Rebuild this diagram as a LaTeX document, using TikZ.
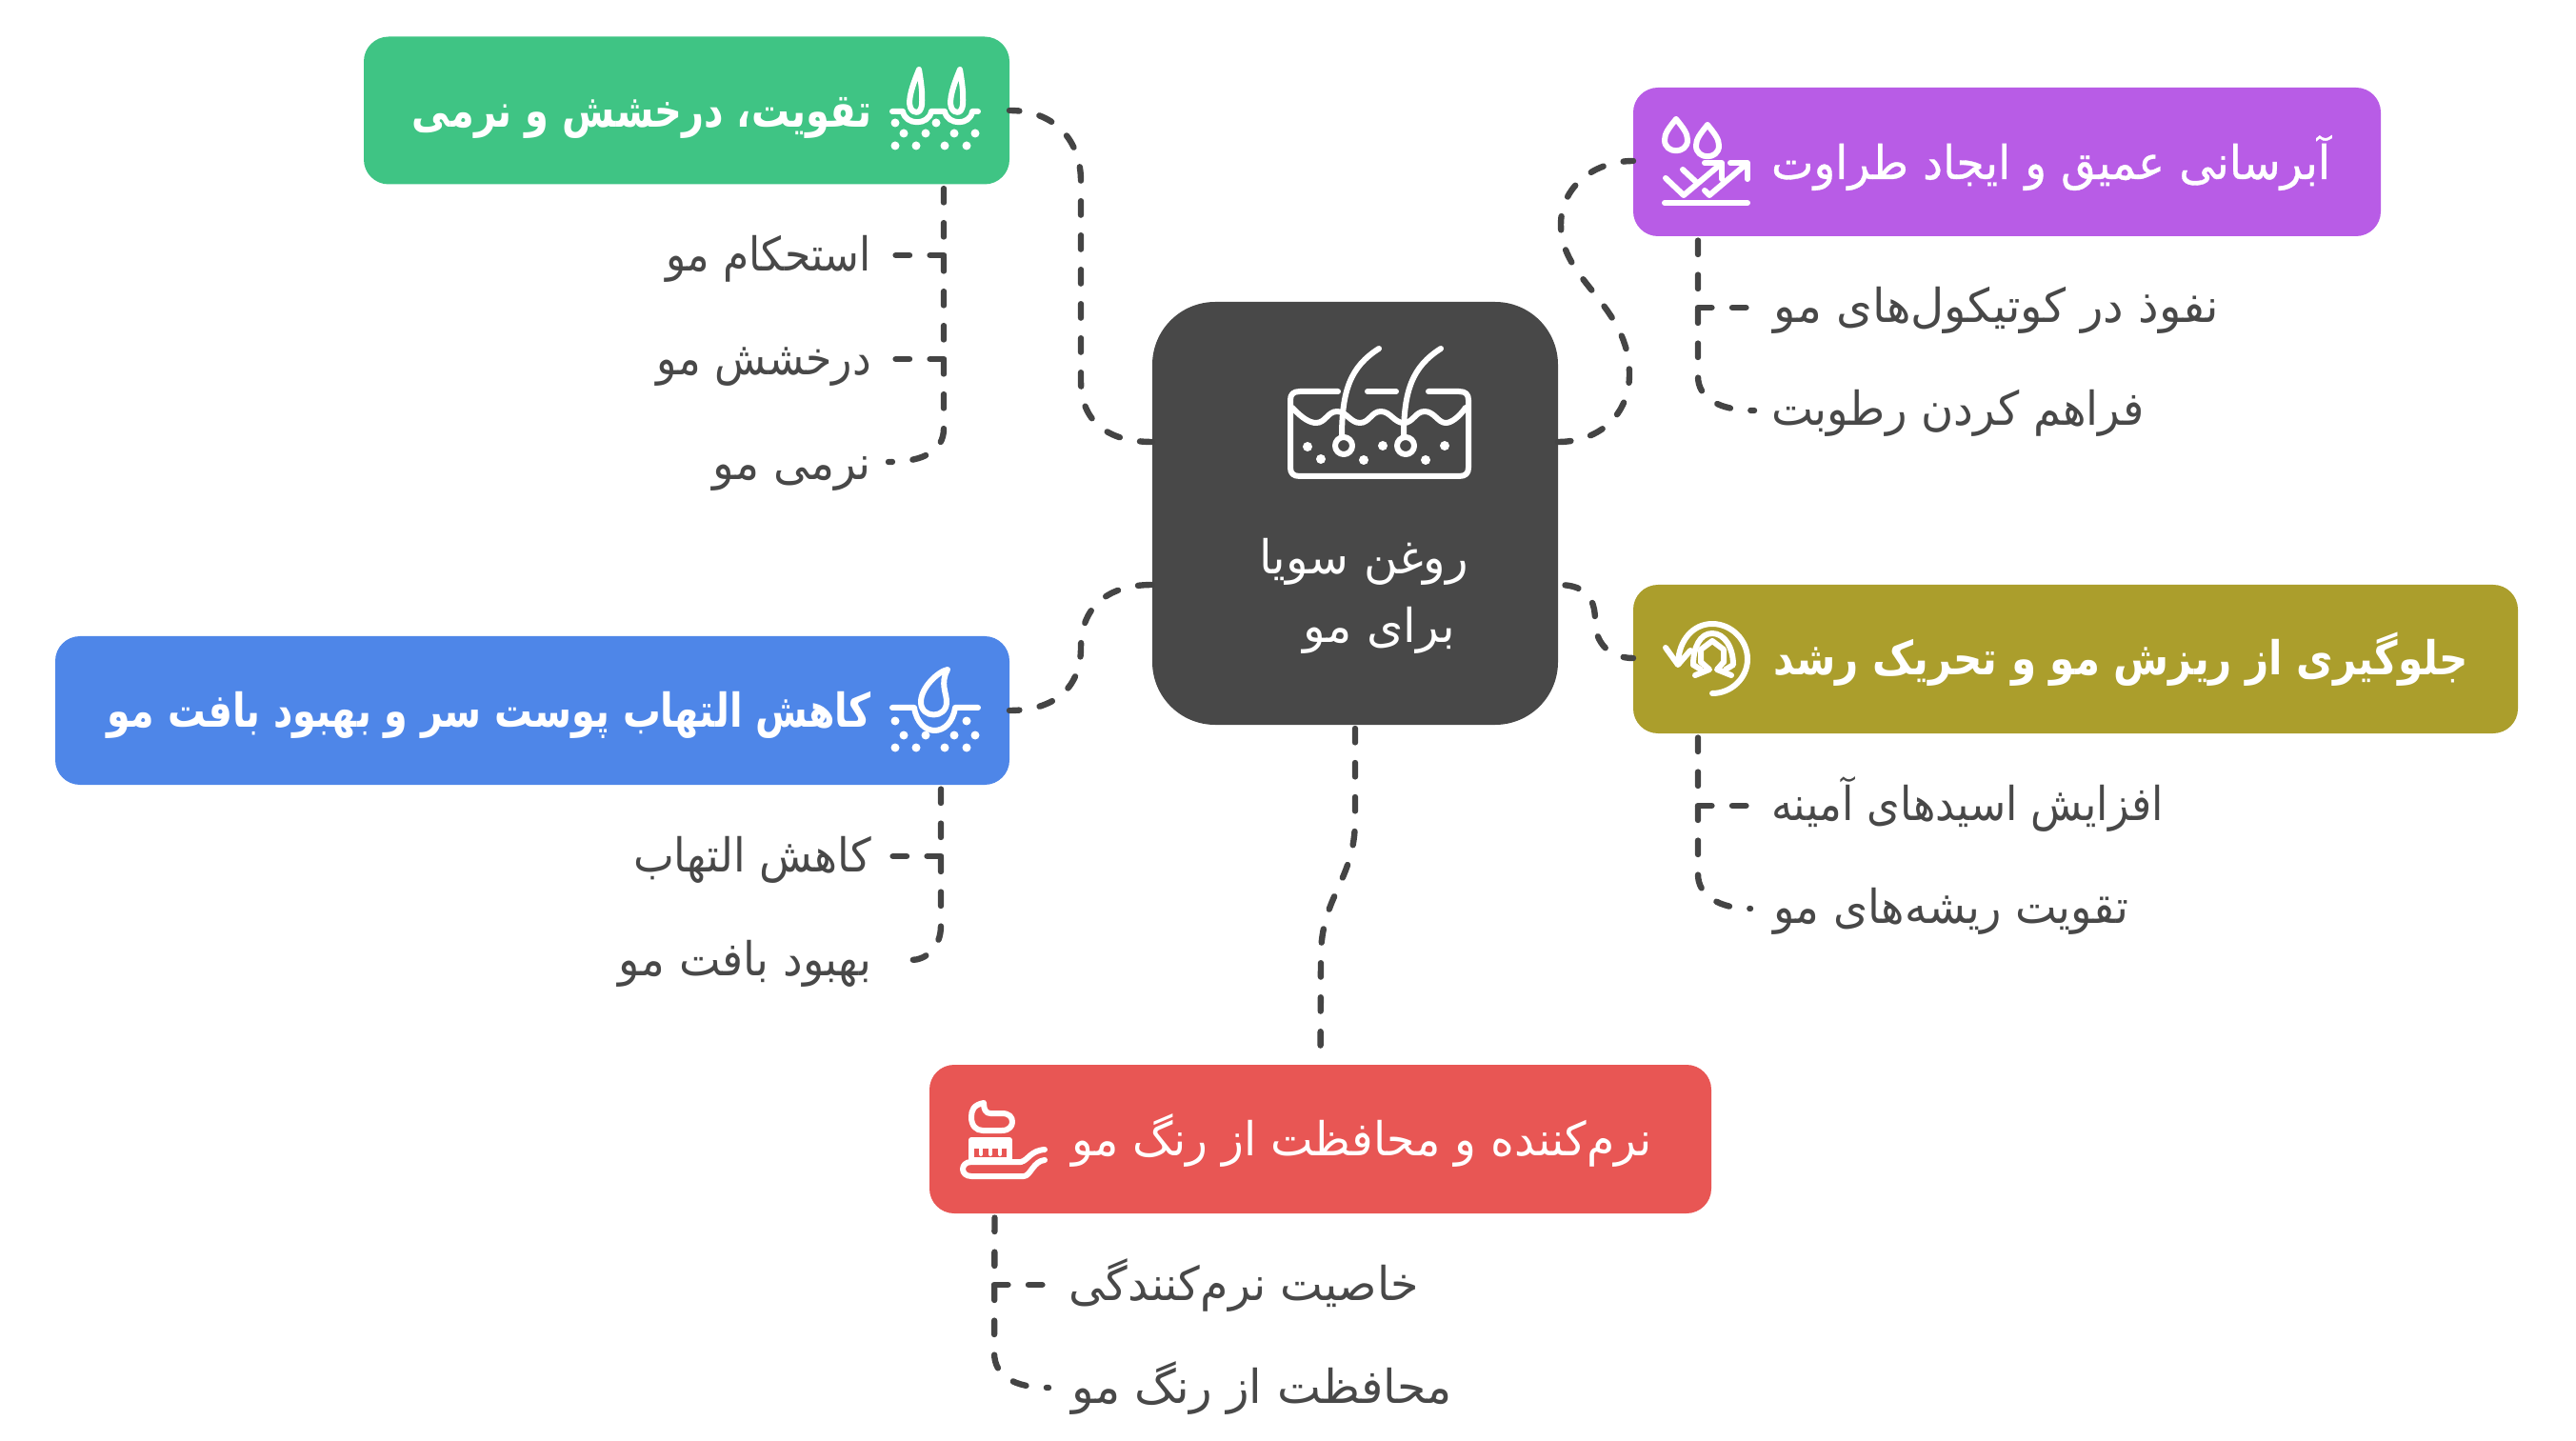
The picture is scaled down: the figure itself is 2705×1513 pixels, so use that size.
\documentclass[tikz,border=0pt]{standalone}
\usepackage{fontspec}
\usepackage{graphicx}
\usetikzlibrary{calc}
\TeXXeTstate=1
\newfontfamily\arabicfont[Script=Arabic]{DejaVu Sans}
\newfontfamily\arabicbold[Script=Arabic]{DejaVu Sans Bold}
\newfontfamily\arabicmedium[Script=Arabic,FakeBold=0.7]{DejaVu Sans}
\newdimen\pxu \pxu=0.5pt
\newcommand{\txr}[2]{\resizebox{#1\pxu}{\height}{\fontsize{24.5}{28}\arabicfont #2}}
\newcommand{\txb}[2]{\resizebox{#1\pxu}{\height}{\fontsize{24.5}{28}\arabicbold #2}}
\newcommand{\txm}[2]{\resizebox{#1\pxu}{\height}{\fontsize{24.5}{28}\arabicmedium #2}}
\definecolor{cgreen}{HTML}{3FC484}
\definecolor{cpurple}{HTML}{B85CE6}
\definecolor{colive}{HTML}{AB9E2C}
\definecolor{cblue}{HTML}{4E86E8}
\definecolor{cred}{HTML}{E85654}
\definecolor{ccenter}{HTML}{484848}
\definecolor{ctext}{HTML}{484848}
\definecolor{cline}{HTML}{444444}
\tikzset{
  boxnode/.style={draw=none,rounded corners=13pt,inner sep=0pt,outer sep=0pt},
  sublabel/.style={inner sep=0pt,outer sep=0pt,text=ctext},
  titlelabel/.style={inner sep=0pt,outer sep=0pt,text=white},
  conn/.style={draw=cline,line width=3.2pt,line cap=round,dash pattern=on 7.2pt off 10.8pt},
  ico/.style={draw=white,line width=3pt,line cap=round,line join=round},
  icodot/.style={fill=white,draw=none}
}
\begin{document}
\begin{tikzpicture}[x=0.5pt,y=-0.5pt]
\useasboundingbox (0,0) rectangle (2705,1513);
% boxes
\node[boxnode,fill=ccenter,rounded corners=33pt,minimum width=426\pxu,minimum height=444\pxu] (hub) at (1423,539) {};
\node[boxnode,fill=cgreen,minimum width=678\pxu,minimum height=155\pxu] (green) at (721,116) {};
\node[boxnode,fill=cpurple,minimum width=785\pxu,minimum height=156\pxu] (purple) at (2107.5,170) {};
\node[boxnode,fill=colive,minimum width=929\pxu,minimum height=156\pxu] (olive) at (2179.5,692) {};
\node[boxnode,fill=cblue,minimum width=1002\pxu,minimum height=156\pxu] (blue) at (559,746) {};
\node[boxnode,fill=cred,minimum width=821\pxu,minimum height=156\pxu] (red) at (1386.5,1196) {};
% titles
\node[titlelabel,anchor=base east] (tgreen) at (915,134) {\txb{482}{\beginR تقویت، درخشش و نرمی\endR}};
\node[titlelabel,anchor=base west] (tpurple) at (1860,188) {\txm{587}{\beginR آبرسانی عمیق و ایجاد طراوت\endR}};
\node[titlelabel,anchor=base west] (tolive) at (1862,709) {\txb{730}{\beginR جلوگیری از ریزش مو و تحریک رشد\endR}};
\node[titlelabel,anchor=base east] (tblue) at (915,763) {\txb{802}{\beginR کاهش التهاب پوست سر و بهبود بافت مو\endR}};
\node[titlelabel,anchor=base west] (tred) at (1125,1213) {\txr{610}{\beginR نرم‌کننده و محافظت از رنگ مو\endR}};
\node[titlelabel,anchor=base] (hub1) at (1432,603) {\txr{220}{\beginR روغن سویا\endR}};
\node[titlelabel,anchor=base] (hub2) at (1448,675) {\txr{160}{\beginR برای مو\endR}};
% sub labels
\node[sublabel,anchor=base east] (g1) at (915,285) {\txr{216}{\beginR استحکام مو\endR}};
\node[sublabel,anchor=base east] (g2) at (915,394) {\txr{225}{\beginR درخشش مو\endR}};
\node[sublabel,anchor=base east] (g3) at (915,504) {\txr{167}{\beginR نرمی مو\endR}};
\node[sublabel,anchor=base west] (p1) at (1862,339) {\txr{468}{\beginR نفوذ در کوتیکول‌های مو\endR}};
\node[sublabel,anchor=base west] (p2) at (1860,447) {\txr{392}{\beginR فراهم کردن رطوبت\endR}};
\node[sublabel,anchor=base west] (o1) at (1860,861) {\txr{412}{\beginR افزایش اسیدهای آمینه\endR}};
\node[sublabel,anchor=base west] (o2) at (1862,969) {\txr{373}{\beginR تقویت ریشه‌های مو\endR}};
\node[sublabel,anchor=base east] (b1) at (915,915) {\txr{250}{\beginR کاهش التهاب\endR}};
\node[sublabel,anchor=base east] (b2) at (915,1024) {\txr{265}{\beginR بهبود بافت مو\endR}};
\node[sublabel,anchor=base west] (r1) at (1122,1365) {\txr{368}{\beginR خاصیت نرم‌کنندگی\endR}};
\node[sublabel,anchor=base west] (r2) at (1125,1473) {\txr{400}{\beginR محافظت از رنگ مو\endR}};
% main connectors
\draw[conn,dash phase=2pt] (green.east) .. controls (1110,116) and (1135,150) .. (1135,190) -- (1135,400) .. controls (1135,440) and (1160,464) .. ($(hub.west)+(0,-75)$);
\draw[conn,dash phase=2pt] ($(purple.west)+(0,-1)$) .. controls (1675,169) and (1639,195) .. (1639,236) .. controls (1639,295) and (1711,320) .. (1711,393) .. controls (1711,435) and (1680,464) .. ($(hub.east)+(0,-75)$);
\draw[conn,dash phase=2pt] ($(olive.west)+(0,-1)$) .. controls (1690,691) and (1675,675) .. (1675,652) .. controls (1675,630) and (1667,614) .. ($(hub.east)+(0,75)$);
\draw[conn,dash phase=2pt] (blue.east) .. controls (1110,746) and (1135,720) .. (1135,680) .. controls (1135,640) and (1160,614) .. ($(hub.west)+(0,75)$);
\draw[conn,dash phase=16pt] (hub.south) -- (1423,860) .. controls (1423,925) and (1387,940) .. (1387,1005) -- (red.north);
% trunks
\draw[conn,dash phase=15.7pt] ($(green.south)+(270,0)$) -- (991,450) .. controls (991,472) and (972,485) .. ($(g3.base east)+(18,-19)$);
\draw[conn] (991,268) -- ($(g1.base east)+(22,-17)$);
\draw[conn] (991,377) -- ($(g2.base east)+(22,-17)$);
\draw[conn,dash phase=15.7pt] ($(purple.south)+(-324.5,0)$) -- (1783,395) .. controls (1783,418) and (1805,431) .. ($(p2.base west)+(-18,-16)$);
\draw[conn] (1783,323) -- ($(p1.base west)+(-24,-16)$);
\draw[conn,dash phase=15.7pt] ($(olive.south)+(-396.5,0)$) -- (1783,918) .. controls (1783,940) and (1805,954) .. ($(o2.base west)+(-24,-15)$);
\draw[conn] (1783,846) -- ($(o1.base west)+(-24,-15)$);
\draw[conn,dash phase=15.7pt] ($(blue.south)+(429,0)$) -- (988,972) .. controls (988,995) and (972,1008) .. ($(b2.base east)+(42,-16)$);
\draw[conn] (988,899) -- ($(b1.base east)+(22,-16)$);
\draw[conn,dash phase=15.7pt] ($(red.south)+(-342,0)$) -- (1044,1420) .. controls (1044,1445) and (1065,1457) .. ($(r2.base west)+(-24,-16)$);
\draw[conn] (1044,1349) -- ($(r1.base west)+(-22,-16)$);
% hub icon
\draw[ico] (1405,411) -- (1365,411) .. controls (1358,411) and (1355,414) .. (1355,420) -- (1355,491) .. controls (1355,497) and (1358,500) .. (1365,500) -- (1532,500) .. controls (1539,500) and (1542,497) .. (1542,491) -- (1542,420) .. controls (1542,414) and (1539,411) .. (1532,411) -- (1500,411);
\draw[ico] (1436,411) -- (1466,411);
\draw[ico] (1357,428) .. controls (1368,440) and (1376,444) .. (1382,444) .. controls (1392,444) and (1394,432) .. (1404,432) .. controls (1414,432) and (1418,444) .. (1428,444) .. controls (1438,444) and (1440,432) .. (1450,432) .. controls (1460,432) and (1464,444) .. (1474,444) .. controls (1484,444) and (1486,432) .. (1496,432) .. controls (1506,432) and (1510,444) .. (1518,444) .. controls (1524,444) and (1532,438) .. (1539,428);
\draw[ico] (1409,459) .. controls (1409,410) and (1418,385) .. (1448,366);
\draw[ico] (1474,459) .. controls (1474,410) and (1483,385) .. (1513,366);
\draw[ico] (1411,468) circle[radius=9];
\draw[ico] (1476,468) circle[radius=9];
\foreach \px/\py in {1373/469,1387/482,1432/483,1452/468,1497/483,1517/468} \fill[icodot] (\px,\py) circle[radius=5];
% green icon
\draw[ico] (937,117) -- (948,117) .. controls (951,132) and (975,132) .. (978,117) -- (992,117) .. controls (995,132) and (1019,132) .. (1021,117) -- (1027,117);
\draw[ico] (965,73) .. controls (958,90) and (953,105) .. (956,113) .. controls (959,120) and (967,120) .. (968,110) .. controls (969,98) and (967,85) .. (965,73);
\draw[ico] (1008,73) .. controls (1001,90) and (996,105) .. (999,113) .. controls (1002,120) and (1010,120) .. (1011,110) .. controls (1012,98) and (1010,85) .. (1008,73);
\foreach \px/\py in {940/129,983/129,949/140,972/140,1002/140,1024/140,940/153,962/153,992/153,1015/153} \fill[icodot] (\px,\py) circle[radius=4.5];
% blue icon
\draw[ico] (937,743) -- (960,743) .. controls (965,775) and (998,775) .. (1003,743) -- (1027,743);
\draw[ico] (995,703) .. controls (985,705) and (967,722) .. (967,737) .. controls (967,755) and (994,755) .. (994,737) .. controls (994,727) and (987,718) .. (995,703);
\foreach \px/\py in {940/757,1015/757,949/772,972/772,1002/772,1024/772,940/785,962/785,992/785,1015/785} \fill[icodot] (\px,\py) circle[radius=4.5];
% purple icon
\draw[ico] (1760,125) .. controls (1752,135) and (1748,140) .. (1748,147) .. controls (1748,162) and (1772,162) .. (1772,147) .. controls (1772,140) and (1768,135) .. (1760,125);
\draw[ico] (1793,131) .. controls (1785,141) and (1781,146) .. (1781,153) .. controls (1781,168) and (1805,168) .. (1805,153) .. controls (1805,146) and (1801,141) .. (1793,131);
\draw[ico] (1749,187) -- (1768,205) -- (1806,173);
\draw[ico] (1767,178) -- (1782,192);
\draw[ico] (1790,171) -- (1808,171) -- (1808,188);
\draw[ico] (1790,200) -- (1795,205) -- (1834,172);
\draw[ico] (1817,171) -- (1835,171) -- (1835,188);
\draw[ico] (1748,213) -- (1835,213);
% olive icon
\draw[ico] (1798,728) .. controls (1818,728) and (1835,712) .. (1835,692) .. controls (1835,672) and (1818,655) .. (1798,655) .. controls (1778,655) and (1763,672) .. (1762,696);
\draw[ico] (1749,680) -- (1762,698) -- (1775,683);
\draw[ico] (1778,698) .. controls (1778,680) and (1785,665) .. (1798,665) .. controls (1811,665) and (1820,680) .. (1820,698) -- (1812,703);
\draw[ico] (1778,698) -- (1786,703);
\draw[ico] (1786,695) -- (1786,682) -- (1798,673) -- (1810,682) -- (1810,695);
\draw[ico] (1780,709) -- (1795,703) -- (1786,695);
\draw[ico] (1818,709) -- (1803,703) -- (1810,695);
% red icon
\draw[ico] (1033,1158) .. controls (1022,1160) and (1020,1166) .. (1020,1173) .. controls (1020,1182) and (1025,1187) .. (1032,1187) -- (1052,1187) .. controls (1060,1187) and (1063,1182) .. (1063,1178) .. controls (1063,1173) and (1060,1169) .. (1052,1169) -- (1040,1169) .. controls (1035,1169) and (1033,1165) .. (1033,1158);
\draw[ico] (1020,1197) -- (1060,1197) -- (1060,1218) -- (1020,1218) -- cycle;
\fill[white] (1020,1197) rectangle (1060,1206);
\draw[ico,line width=2pt] (1030,1206) -- (1030,1212);
\draw[ico,line width=2pt] (1040,1206) -- (1040,1212);
\draw[ico,line width=2pt] (1050,1206) -- (1050,1212);
\draw[ico] (1072,1220) -- (1020,1220) .. controls (1008,1220) and (1008,1235) .. (1020,1235) -- (1075,1235) .. controls (1082,1235) and (1085,1219) .. (1097,1218);
\draw[ico] (1072,1220) .. controls (1080,1218) and (1082,1208) .. (1097,1207);
\end{tikzpicture}
\end{document}
